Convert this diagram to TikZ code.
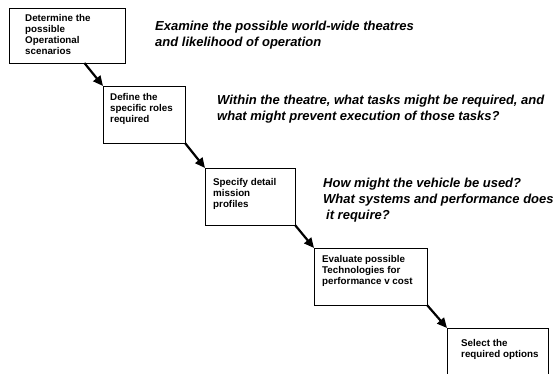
\documentclass[tikz,border=0pt]{standalone}
\usepackage{fontspec}
\setmainfont{Liberation Sans}
\usetikzlibrary{arrows.meta,calc}
\begin{document}
\begin{tikzpicture}[x=1pt,y=-1pt,
  stagebox/.style={draw=black, line width=0.8pt, inner sep=0pt, outer sep=0pt, anchor=north west},
  boxtext/.style={font=\fontsize{9.8}{11}\selectfont\bfseries, align=left, inner sep=0pt, anchor=north west},
  qtext/.style={font=\fontsize{13}{16}\selectfont\bfseries\itshape, align=left, inner sep=0pt, anchor=north west},
  flowarrow/.style={draw=black, line width=2.2pt, -{Triangle[length=10pt,width=9pt]}}]
\useasboundingbox (0,0) rectangle (557,374);
\clip (0,0) rectangle (557,374);
% boxes
\node[stagebox, minimum width=116pt, minimum height=55pt] (b1) at (9,8) {};
\node[stagebox, minimum width=82pt, minimum height=57pt] (b2) at (103,86) {};
\node[stagebox, minimum width=90pt, minimum height=57pt] (b3) at (205,168) {};
\node[stagebox, minimum width=113pt, minimum height=57pt] (b4) at (314,248) {};
\node[stagebox, minimum width=101pt, minimum height=70pt] (b5) at (447,328) {};
% box texts
\node[boxtext] (t1) at ($(b1.north west)+(16,6)$) {Determine the\\possible\\Operational\\scenarios};
\node[boxtext] (t2) at ($(b2.north west)+(7,7)$) {Define the\\specific roles\\required};
\node[boxtext] (t3) at ($(b3.north west)+(8,10)$) {Specify detail\\mission\\profiles};
\node[boxtext] (t4) at ($(b4.north west)+(8,7)$) {Evaluate possible\\Technologies for\\performance v cost};
\node[boxtext] (t5) at ($(b5.north west)+(14,11)$) {Select the\\required options};
% questions
\node[qtext] (q1) at (155,21) {Examine the possible world-wide theatres\\and likelihood of operation};
\node[qtext] (q2) at (217,95) {Within the theatre, what tasks might be required, and\\what might prevent execution of those tasks?};
\node[qtext] (q3) at (323,178) {How might the vehicle be used?\\What systems and performance does\\\hspace*{3pt}it require?};
% arrows
\draw[flowarrow] ($(b1.south west)!0.65!(b1.south east)$) -- (b2.north west);
\draw[flowarrow] (b2.south east) -- (b3.north west);
\draw[flowarrow] (b3.south east) -- (b4.north west);
\draw[flowarrow] (b4.south east) -- (b5.north west);
\end{tikzpicture}
\end{document}
